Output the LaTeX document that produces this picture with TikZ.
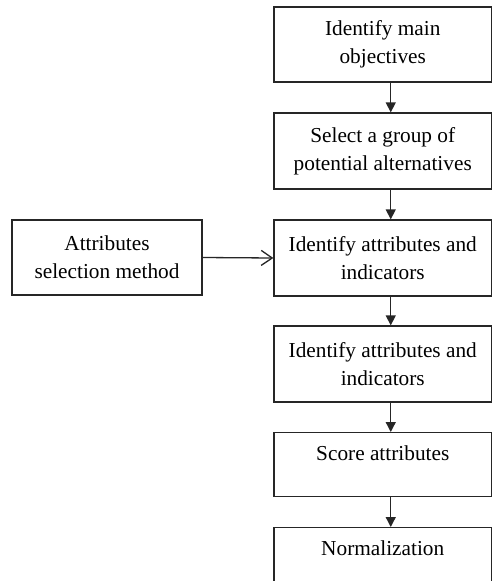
\documentclass[tikz,border=0pt]{standalone}
\usepackage{fontspec}
\setmainfont{Liberation Serif}
\usetikzlibrary{arrows.meta}
\begin{document}
\begin{tikzpicture}[x=1pt,y=-1pt,
  box/.style={draw=black!85, line width=1.3pt, minimum width=217.5pt, inner sep=0pt, align=center,
    font=\fontsize{21.3}{28.3}\selectfont},
  lbox/.style={box, minimum width=190pt, minimum height=75pt},
  tbox/.style={box, minimum height=76pt},
  obox/.style={box, anchor=north, text height=28pt},
  arr/.style={line width=1.3pt, draw=black!85, -{Triangle[length=10pt,width=10pt]}},
  oarr/.style={line width=1.3pt, draw=black!85, -{Straight Barb[length=11pt,width=15pt]}}
]
\clip (0,0) rectangle (493,581);
\fill[white] (0,0) rectangle (493,581);
\node[box, minimum height=75pt] (b1) at (382.75,44.5) {Identify main\\objectives};
\node[tbox] (b2) at (382.75,151) {Select a group of\\potential alternatives};
\node[tbox] (b3) at (382.75,258) {Identify attributes and\\indicators};
\node[tbox] (b4) at (382.75,364) {Identify attributes and\\indicators};
\node[obox, text depth=36pt] (b5) at (382.75,432) {Score attributes};
\node[obox, text depth=52pt] (b6) at (382.75,527) {Normalization};
\node[lbox] (a) at (107,257.5) {Attributes\\selection method};
\draw[arr] ([xshift=8pt]b1.south) -- ([xshift=8pt]b2.north);
\draw[arr] ([xshift=8pt]b2.south) -- ([xshift=8pt]b3.north);
\draw[arr] ([xshift=8pt]b3.south) -- ([xshift=8pt]b4.north);
\draw[arr] ([xshift=8pt]b4.south) -- ([xshift=8pt]b5.north);
\draw[arr] ([xshift=8pt]b5.south) -- ([xshift=8pt]b6.north);
\draw[oarr] (a.east) -- (b3.west);
\end{tikzpicture}
\end{document}
